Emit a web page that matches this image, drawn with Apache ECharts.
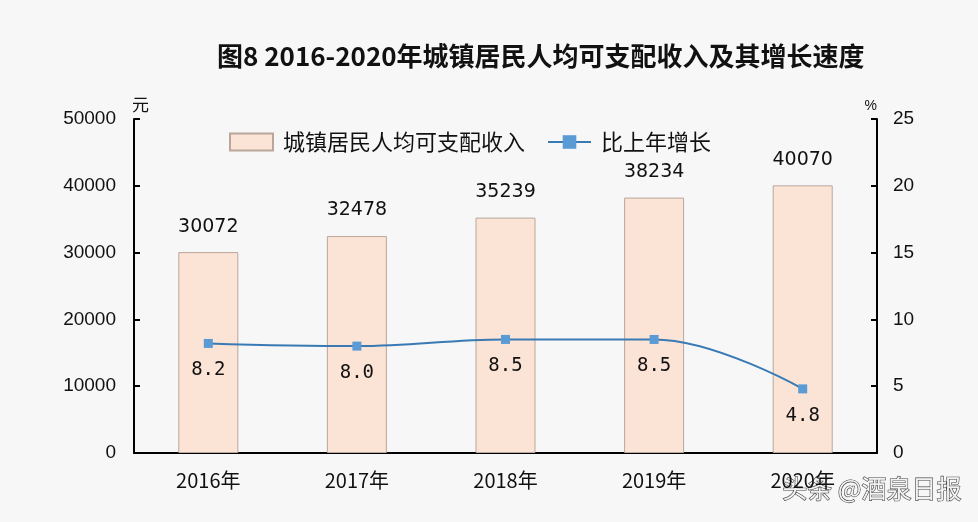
<!DOCTYPE html>
<html><head><meta charset="utf-8">
<script src="https://cdn.jsdelivr.net/npm/echarts@6/dist/echarts.min.js"></script>
<style>html,body{margin:0;padding:0;background:#f7f7f7;}#c{width:978px;height:522px;}</style>
</head><body><div id="c"></div>
<script>
var categories = ['2016年','2017年','2018年','2019年','2020年'];
var incomeValues = [30072, 32478, 35239, 38234, 40070];
var growthValues = [8.2, 8.0, 8.5, 8.5, 4.8];
var leftTicks = [0, 10000, 20000, 30000, 40000, 50000];
var rightTicks = [0, 5, 10, 15, 20, 25];

var chart = echarts.init(document.getElementById('c'));
var axisFont = {color:'#111', fontSize:19, fontFamily:'Liberation Sans, Arial, sans-serif'};
chart.setOption({
  backgroundColor:'#f7f7f7',
  animation:false,
  title:{text:'图8 2016-2020年城镇居民人均可支配收入及其增长速度', left:212, top:38,
    textStyle:{fontSize:26, fontWeight:'bold', color:'#111', fontFamily:'Noto Sans CJK SC'}},
  legend:{top:126, left:224, itemWidth:43, itemHeight:17, itemGap:22,
    textStyle:{fontSize:22, color:'#111', fontFamily:'Noto Sans CJK SC', padding:[0,0,0,5]},
    data:[{name:'城镇居民人均可支配收入', icon:'rect'},{name:'比上年增长'}]},
  grid:{left:134, right:101, top:119, bottom:69},
  xAxis:{type:'category', data:categories,
    axisLine:{lineStyle:{color:'#000', width:2}},
    axisTick:{inside:true, length:7, lineStyle:{color:'#000', width:2}},
    axisLabel:{color:'#111', fontSize:20, margin:17, fontFamily:'Noto Sans CJK SC'}},
  yAxis:[
    {type:'value', min:0, max:50000, interval:10000, name:'元', nameGap:6,
     nameTextStyle:{fontSize:17, color:'#111', fontFamily:'Noto Sans CJK SC', align:'left', padding:[0,0,0,-2]},
     axisLine:{show:true, lineStyle:{color:'#000', width:2}},
     axisTick:{show:true, inside:true, length:6, lineStyle:{color:'#000', width:2}},
     splitLine:{show:false},
     axisLabel:Object.assign({margin:18, formatter:function(v){return leftTicks.indexOf(v)>=0?String(v):'';}}, axisFont)},
    {type:'value', min:0, max:25, interval:5, name:'%', nameGap:6,
     nameTextStyle:{fontSize:14, color:'#111', align:'right'},
     axisLine:{show:true, lineStyle:{color:'#000', width:2}},
     axisTick:{show:true, inside:true, length:6, lineStyle:{color:'#000', width:2}},
     splitLine:{show:false},
     axisLabel:Object.assign({margin:16, formatter:function(v){return rightTicks.indexOf(v)>=0?String(v):'';}}, axisFont)}
  ],
  series:[
    {name:'城镇居民人均可支配收入', type:'bar', data:incomeValues, barWidth:60,
     itemStyle:{color:'#fbe4d6', borderColor:'#b9a79c', borderWidth:1},
     label:{show:true, position:'top', distance:16, fontSize:19, color:'#111', fontFamily:'DejaVu Sans, sans-serif'}},
    {name:'比上年增长', type:'line', yAxisIndex:1, data:growthValues, smooth:0.4,
     symbol:'rect', symbolSize:9,
     lineStyle:{color:'#3a7ab4', width:2},
     itemStyle:{color:'#5b9bd5'},
     label:{show:true, position:'bottom', distance:13, fontSize:19, color:'#111', fontFamily:'DejaVu Sans Mono, monospace',
       formatter:function(p){return p.value.toFixed(1);}}}
  ],
  graphic:[{type:'text', right:16, top:475,
    style:{text:'头条 @酒泉日报', fontSize:25, fontFamily:'Noto Sans CJK SC', fill:'#f2f2f2', stroke:'#444', lineWidth:1.2}}]
});
</script></body></html>
